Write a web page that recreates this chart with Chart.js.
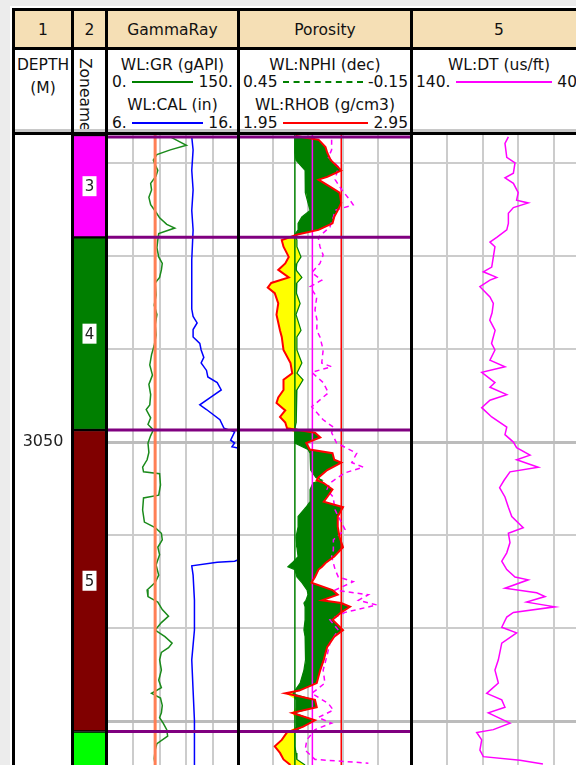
<!DOCTYPE html>
<html>
<head>
<meta charset="utf-8">
<script src="https://cdn.jsdelivr.net/npm/chart.js@4.4.0/dist/chart.umd.min.js"></script>
<style>
  body { margin: 0; width: 576px; height: 765px; overflow: hidden; background: #ececec; font-family: "DejaVu Sans", sans-serif; color: #111; }
  #frame { position: absolute; left: 10px; top: 6px; width: 620px; height: 800px; background: #fff; }
  .tan { position: absolute; left: 12px; top: 11px; width: 600px; height: 36px; background: #f5dfb5; }
  .vb { position: absolute; top: 8px; width: 3px; height: 800px; background: #000; z-index: 5; }
  .hb { position: absolute; left: 12px; width: 600px; height: 3px; background: #000; z-index: 5; }
  .c { position: absolute; text-align: center; white-space: nowrap; font-size: 15.5px; line-height: 18px; height: 18px; }
  .sc { position: absolute; display: flex; align-items: center; font-size: 15.5px; line-height: 18px; height: 18px; white-space: nowrap; }
  .sc i { flex: 1; margin: 0 5px; height: 0; }
  canvas { position: absolute; top: 135px; }
</style>
</head>
<body>
<div id="frame"></div>
<div class="tan"></div>

<!-- header row 1 -->
<div class="c" style="left:15px;width:56px;top:21px">1</div>
<div class="c" style="left:74px;width:31px;top:21px">2</div>
<div class="c" style="left:108px;width:129px;top:21px">GammaRay</div>
<div class="c" style="left:240px;width:170px;top:21px">Porosity</div>
<div class="c" style="left:413px;width:172px;top:21px">5</div>

<!-- header row 2 -->
<div class="c" style="left:15px;width:56px;top:56px">DEPTH</div>
<div class="c" style="left:15px;width:56px;top:78.5px">(M)</div>
<div style="position:absolute;left:76px;top:58px;height:71px;overflow:hidden;writing-mode:vertical-rl;font-size:15.5px;line-height:18px">Zoneame</div>

<div class="c" style="left:108px;width:129px;top:56px">WL:GR (gAPI)</div>
<div class="sc" style="left:112px;width:121px;top:72.5px"><span>0.</span><i style="border-top:2px solid #008000"></i><span>150.</span></div>
<div class="c" style="left:108px;width:129px;top:96px">WL:CAL (in)</div>
<div class="sc" style="left:112px;width:121px;top:114px"><span>6.</span><i style="border-top:2px solid #0000ff"></i><span>16.</span></div>

<div class="c" style="left:240px;width:170px;top:56px">WL:NPHI (dec)</div>
<div class="sc" style="left:243px;width:165px;top:72.5px"><span>0.45</span><i style="border-top:2px dashed #008000"></i><span>-0.15</span></div>
<div class="c" style="left:240px;width:170px;top:96px">WL:RHOB (g/cm3)</div>
<div class="sc" style="left:243px;width:165px;top:114px"><span>1.95</span><i style="border-top:2px solid #ff0000"></i><span>2.95</span></div>

<div class="c" style="left:413px;width:172px;top:56px">WL:DT (us/ft)</div>
<div class="sc" style="left:416px;width:166px;top:72.5px"><span>140.</span><i style="border-top:2px solid #ff00ff"></i><span>40.</span></div>

<div style="position:absolute;left:12px;top:129px;width:600px;height:3px;background:#c8c8c8"></div>

<!-- tracks -->
<canvas id="depthChart" width="56" height="630" style="left:15px"></canvas>
<canvas id="zoneChart" width="31" height="630" style="left:74px"></canvas>
<canvas id="grChart" width="134" height="630" style="left:106px"></canvas>
<canvas id="porChart" width="175" height="630" style="left:238px"></canvas>
<canvas id="dtChart" width="179" height="630" style="left:411px"></canvas>

<!-- frame lines -->
<div class="hb" style="top:8px"></div>
<div class="hb" style="top:47px"></div>
<div class="hb" style="top:132px"></div>
<div class="vb" style="left:12px"></div>
<div class="vb" style="left:71px"></div>
<div class="vb" style="left:105px"></div>
<div class="vb" style="left:237px"></div>
<div class="vb" style="left:410px"></div>

<script>
// gamma ray (gAPI)
var grDepth = [3017.2, 3017.6, 3018.1, 3018.6, 3019.1, 3019.7, 3020.2, 3020.8, 3021.4, 3022.2,
               3022.9, 3023.7, 3024.5, 3025.3, 3025.9, 3026.6, 3027.0, 3027.6, 3028.3, 3029.1,
               3030.1, 3030.8, 3031.5, 3032.3, 3032.9, 3034.2, 3035.3, 3036.3, 3037.4, 3038.5,
               3039.6, 3040.6, 3041.7, 3042.8, 3043.8, 3044.9, 3046.0, 3046.5, 3047.4, 3048.1,
               3048.7, 3049.3, 3050.1, 3051.1, 3051.9, 3052.7, 3053.2, 3053.4, 3054.6, 3055.7,
               3056.0, 3057.3, 3058.6, 3059.2, 3059.8, 3060.5, 3061.3, 3062.1, 3063.2, 3064.3,
               3065.1, 3065.9, 3066.6, 3067.2, 3068.0, 3068.7, 3069.4, 3070.2, 3070.9, 3071.6,
               3072.1, 3072.6, 3073.4, 3074.5, 3075.6, 3076.4, 3077.0, 3077.5, 3078.3, 3079.1,
               3079.6, 3080.2, 3080.9, 3081.6, 3082.4, 3083.1, 3084.0, 3084.7]
var gr = [72, 80, 90, 72, 57, 53, 55, 58, 56, 50,
          51, 48, 50, 56, 60, 68, 77, 59, 58, 57,
          59, 63, 62, 60, 55, 56, 54, 57, 55, 56,
          54, 51, 49, 52, 48, 50, 49, 45, 50, 47,
          53, 50, 47, 48, 46, 41, 42, 60, 61, 59,
          42, 41, 43, 55, 62, 63, 58, 60, 56, 59,
          55, 46, 47, 58, 63, 70, 62, 55, 66, 74,
          70, 62, 60, 62, 59, 62, 51, 61, 63, 62,
          60, 64, 68, 69, 57, 55, 54, 55]

// caliper (in)
var calDepth = [3017.2, 3018.6, 3020.8, 3022.9, 3025.1, 3027.2, 3030.4, 3033.6, 3035.7, 3036.5,
                3037.2, 3037.9, 3038.7, 3039.4, 3040.1, 3040.9, 3041.5, 3042.3, 3043.0, 3043.6,
                3044.4, 3045.2, 3046.0, 3046.5, 3047.6, 3048.5, 3048.9, 3049.8, 3050.1, 3050.5,
                3050.8, 3051.5, 3062.0, 3062.8, 3062.9, 3063.3, 3064.3, 3067.0, 3070.2, 3073.4,
                3076.7, 3079.9, 3084.7]
var cal = [12.4, 12.5, 12.4, 12.5, 12.4, 12.5, 12.4, 12.4, 12.4, 12.5,
           12.8, 12.5, 12.5, 13.0, 13.1, 13.3, 13.1, 13.5, 13.6, 14.3,
           14.6, 13.8, 13.0, 13.5, 14.5, 14.8, 15.6, 15.3, 15.6, 15.4,
           16.4, 17.0, 17.0, 15.6, 14.3, 12.4, 12.5, 12.6, 12.6, 12.4,
           12.5, 12.6, 12.6]

// neutron / density pair, shared depths for the crossover fill
var porDepth = [3017.1, 3017.5, 3018.3, 3018.9, 3019.7, 3020.8, 3021.5, 3021.8, 3022.6, 3023.2,
                3024.3, 3025.1, 3025.8, 3026.5, 3027.2, 3027.7, 3028.3, 3029.0, 3030.1, 3030.8,
                3031.5, 3032.3, 3032.9, 3033.4, 3034.0, 3035.1, 3036.3, 3038.0, 3038.7, 3040.1,
                3041.5, 3042.6, 3043.3, 3044.4, 3045.2, 3045.8, 3046.6, 3047.3, 3047.9, 3048.5,
                3049.0, 3049.5, 3050.1, 3050.8, 3051.2, 3051.9, 3052.2, 3053.0, 3053.8, 3054.1,
                3054.4, 3055.1, 3055.9, 3056.4, 3057.0, 3058.0, 3059.1, 3060.2, 3061.3, 3062.3,
                3063.0, 3063.4, 3063.7, 3064.5, 3065.1, 3065.9, 3066.4, 3067.0, 3067.3, 3067.7,
                3068.3, 3069.1, 3070.2, 3070.9, 3072.0, 3073.4, 3074.5, 3075.9, 3076.7, 3077.0,
                3077.7, 3078.5, 3079.1, 3079.9, 3080.6, 3081.2, 3082.0, 3082.7, 3083.4, 3084.1,
                3084.7]
var rhob = [2.28, 2.41, 2.45, 2.46, 2.48, 2.54, 2.46, 2.41, 2.48, 2.53,
            2.54, 2.52, 2.50, 2.49, 2.41, 2.29, 2.20, 2.21, 2.24, 2.22,
            2.18, 2.24, 2.14, 2.12, 2.16, 2.18, 2.17, 2.19, 2.20, 2.21,
            2.25, 2.26, 2.21, 2.21, 2.18, 2.17, 2.22, 2.19, 2.22, 2.23,
            2.39, 2.42, 2.34, 2.36, 2.49, 2.50, 2.54, 2.46, 2.41, 2.40,
            2.44, 2.49, 2.46, 2.44, 2.55, 2.52, 2.52, 2.53, 2.55, 2.50,
            2.45, 2.43, 2.41, 2.39, 2.37, 2.49, 2.52, 2.43, 2.54, 2.59,
            2.54, 2.49, 2.55, 2.50, 2.46, 2.44, 2.42, 2.40, 2.30, 2.22,
            2.39, 2.40, 2.26, 2.39, 2.32, 2.23, 2.20, 2.16, 2.19, 2.21,
            2.25]
var nphi = [0.255, 0.255, 0.255, 0.255, 0.251, 0.220, 0.220, 0.220, 0.220, 0.217,
            0.210, 0.203, 0.231, 0.244, 0.244, 0.255, 0.248, 0.248, 0.234, 0.248,
            0.251, 0.231, 0.248, 0.248, 0.251, 0.237, 0.251, 0.234, 0.248, 0.248,
            0.231, 0.248, 0.227, 0.248, 0.251, 0.248, 0.251, 0.251, 0.251, 0.255,
            0.255, 0.255, 0.255, 0.210, 0.203, 0.203, 0.200, 0.200, 0.183, 0.162,
            0.193, 0.203, 0.203, 0.203, 0.217, 0.244, 0.244, 0.251, 0.248, 0.244,
            0.265, 0.279, 0.255, 0.248, 0.231, 0.213, 0.210, 0.217, 0.224, 0.220,
            0.220, 0.220, 0.224, 0.220, 0.220, 0.217, 0.224, 0.237, 0.255, 0.261,
            0.251, 0.251, 0.251, 0.251, 0.251, 0.255, 0.255, 0.255, 0.251, 0.248,
            0.220]

// sonic porosity, magenta dashed in the porosity track
var sphiDepth = [3017.5, 3018.6, 3019.4, 3020.4, 3021.8, 3022.9, 3024.0, 3024.5, 3025.1, 3025.8,
                 3026.9, 3028.0, 3029.0, 3029.9, 3030.8, 3031.8, 3032.6, 3033.3, 3034.4, 3035.8,
                 3036.9, 3038.0, 3038.7, 3040.1, 3041.5, 3041.9, 3042.5, 3043.6, 3044.7, 3046.2,
                 3047.6, 3048.4, 3049.0, 3050.1, 3051.2, 3052.2, 3052.7, 3053.3, 3054.4, 3055.1,
                 3055.9, 3057.3, 3059.4, 3060.5, 3061.6, 3062.3, 3063.7, 3064.5, 3065.0, 3065.9,
                 3066.4, 3067.0, 3067.5, 3068.3, 3069.1, 3070.2, 3071.6, 3073.1, 3074.5, 3075.9,
                 3077.0, 3078.1, 3078.8, 3079.6, 3080.2, 3080.9, 3082.0, 3083.1, 3084.1, 3084.5]
var sphi = [0.129, 0.129, 0.140, 0.106, 0.117, 0.094, 0.066, 0.055, 0.117, 0.123,
            0.135, 0.175, 0.169, 0.158, 0.169, 0.197, 0.163, 0.203, 0.180, 0.186,
            0.179, 0.180, 0.169, 0.158, 0.163, 0.129, 0.197, 0.158, 0.140, 0.197,
            0.158, 0.123, 0.129, 0.112, 0.043, 0.060, 0.020, 0.083, 0.135, 0.145,
            0.124, 0.117, 0.083, 0.123, 0.123, 0.129, 0.117, 0.106, 0.055, 0.117,
            0.003, 0.037, -0.026, 0.083, 0.135, 0.106, 0.135, 0.146, 0.158, 0.152,
            0.197, 0.140, 0.123, 0.175, 0.129, 0.186, 0.214, 0.220, 0.186, 0.003]

// sonic (us/ft)
var dtDepth = [3017.2, 3017.9, 3019.4, 3020.0, 3021.1, 3021.6, 3022.2, 3023.2, 3024.0, 3024.3,
               3024.8, 3025.4, 3026.5, 3027.2, 3028.0, 3028.5, 3029.0, 3030.1, 3031.2, 3031.7,
               3032.3, 3032.6, 3033.3, 3034.4, 3035.1, 3036.1, 3036.9, 3038.0, 3039.4, 3040.1,
               3041.2, 3041.9, 3042.5, 3043.6, 3044.1, 3044.9, 3045.5, 3046.3, 3047.3, 3048.4,
               3049.2, 3050.0, 3050.6, 3051.4, 3051.9, 3052.7, 3053.2, 3054.1, 3054.9, 3055.9,
               3057.0, 3058.0, 3059.2, 3059.8, 3060.8, 3061.9, 3062.8, 3063.7, 3064.5, 3064.8,
               3065.7, 3066.2, 3066.6, 3067.2, 3067.7, 3068.3, 3068.8, 3069.9, 3070.5, 3071.6,
               3073.4, 3074.5, 3075.9, 3077.0, 3077.7, 3078.5, 3079.1, 3080.2, 3080.9, 3081.2,
               3082.0, 3083.1, 3083.8, 3084.2, 3084.6]
var dt = [85.6, 87.5, 86.5, 81.9, 82.8, 87.5, 82.8, 80.1, 81.0, 74.5,
          82.8, 85.6, 85.6, 86.5, 92.1, 95.9, 93.1, 94.0, 94.9, 99.6,
          92.1, 95.9, 101.5, 95.9, 94.0, 94.7, 96.0, 93.0, 95.0, 93.1,
          95.9, 87.5, 100.5, 93.1, 95.9, 86.5, 95.9, 100.5, 94.9, 86.5,
          87.5, 82.8, 81.0, 73.5, 81.0, 68.9, 84.7, 88.0, 90.5, 87.5,
          85.6, 83.7, 77.3, 85.6, 84.7, 86.5, 89.3, 86.5, 81.9, 74.5,
          87.5, 69.8, 65.1, 75.4, 59.6, 82.8, 86.5, 89.3, 81.0, 89.3,
          91.2, 93.1, 91.2, 97.7, 89.3, 87.5, 96.8, 84.7, 94.0, 103.3,
          100.5, 101.5, 99.6, 79.1, 66.3]

var grCutoff = 55
var nphiCutoff = 0.255
var sphiCutoff = 0.195
var rhobCutoff = 2.54

var zoneNames = ['3', '4', '5', '6']
var zoneTops = [3017, 3028, 3048.7, 3081.1]
var zoneBases = [3028, 3048.7, 3081.1, 3095]
var zoneColors = ['#ff00ff', '#007f00', '#800000', '#00ff00']

var depthTicks = [3020, 3030, 3040, 3050, 3060, 3070, 3080]
var boldDepths = [3050, 3080]
var depthLabels = [3050]
var topDepth = 3017
var baseDepth = 3084.7

var rhobMin = 1.95, rhobMax = 2.95
var nphiLeft = 0.45, nphiRight = -0.15

Chart.defaults.font.family = '"DejaVu Sans", sans-serif'
Chart.defaults.animation = false
Chart.defaults.plugins.legend.display = false
Chart.defaults.plugins.tooltip.enabled = false
Chart.defaults.elements.point.radius = 0
Chart.defaults.elements.line.tension = 0

function pts(depths, vals) {
    return depths.map(function (d, i) { return { x: vals[i], y: d } })
}
function vline(v) {
    return [{ x: v, y: topDepth }, { x: v, y: baseDepth }]
}
function evenTicks(ax) {
    var s = (ax.max - ax.min) / 5
    ax.ticks = []
    for (var i = 0; i <= 5; i++) ax.ticks.push({ value: ax.min + s * i })
}

function depthAxis(showGrid) {
    return {
        type: 'linear', min: topDepth, max: baseDepth, reverse: true,
        display: showGrid,
        afterBuildTicks: function (ax) {
            ax.ticks = depthTicks.map(function (v) { return { value: v } })
        },
        ticks: { display: false },
        border: { display: false },
        grid: {
            drawTicks: false,
            color: function (c) { return c.tick && boldDepths.includes(c.tick.value) ? '#bcbcbc' : '#cccccc' },
            lineWidth: function (c) { return c.tick && boldDepths.includes(c.tick.value) ? 3 : 2 }
        }
    }
}

function valueAxis(min, max, reverse, showGrid) {
    return {
        type: 'linear', axis: 'x', position: 'top',
        min: min, max: max, reverse: reverse,
        display: showGrid,
        afterBuildTicks: evenTicks,
        ticks: { display: false },
        border: { display: false },
        grid: { drawTicks: false, color: '#cccccc', lineWidth: 2 }
    }
}

// purple zone boundaries across the log tracks
var zoneLines = {
    id: 'zoneLines',
    afterDatasetsDraw: function (chart) {
        var y = chart.scales.y, a = chart.chartArea, ctx = chart.ctx
        ctx.save()
        ctx.strokeStyle = '#800080'
        ctx.lineWidth = 3
        zoneTops.forEach(function (d) {
            if (d < y.min || d > y.max) return
            var p = Math.max(y.getPixelForValue(d), a.top + 2)
            ctx.beginPath()
            ctx.moveTo(a.left, p)
            ctx.lineTo(a.right, p)
            ctx.stroke()
        })
        ctx.restore()
    }
}

var zoneLabels = {
    id: 'zoneLabels',
    afterDatasetsDraw: function (chart) {
        var y = chart.scales.y, a = chart.chartArea, ctx = chart.ctx
        var cx = (a.left + a.right) / 2
        ctx.save()
        ctx.font = '15px "DejaVu Sans"'
        ctx.textAlign = 'center'
        ctx.textBaseline = 'middle'
        zoneNames.forEach(function (name, i) {
            var mid = (zoneTops[i] + zoneBases[i]) / 2
            if (mid < y.min || mid > y.max) return
            var p = y.getPixelForValue(mid)
            ctx.fillStyle = '#fff'
            ctx.fillRect(cx - 7, p - 10, 14, 20)
            ctx.fillStyle = '#222'
            ctx.fillText(name, cx, p + 1)
        })
        ctx.restore()
    }
}

var depthText = {
    id: 'depthText',
    afterDraw: function (chart) {
        var y = chart.scales.y, a = chart.chartArea, ctx = chart.ctx
        ctx.save()
        ctx.font = '16px "DejaVu Sans"'
        ctx.fillStyle = '#222'
        ctx.textAlign = 'center'
        ctx.textBaseline = 'middle'
        depthLabels.forEach(function (d) {
            ctx.fillText(String(d), (a.left + a.right) / 2, y.getPixelForValue(d))
        })
        ctx.restore()
    }
}

// depth track
new Chart('depthChart', {
    type: 'line',
    data: { datasets: [] },
    options: {
        responsive: false,
        indexAxis: 'y',
        scales: { x: { type: 'linear', display: false, min: 0, max: 1 }, y: depthAxis(false) }
    },
    plugins: [depthText]
})

// zone track
new Chart('zoneChart', {
    type: 'bar',
    data: {
        labels: ['zone'],
        datasets: zoneNames.map(function (n, i) {
            return {
                data: [[zoneTops[i], zoneBases[i]]],
                backgroundColor: zoneColors[i],
                borderColor: '#000',
                borderWidth: { top: 1.5, bottom: 1.5, left: 0, right: 0 },
                borderSkipped: false,
                grouped: false,
                barPercentage: 1,
                categoryPercentage: 1
            }
        })
    },
    options: {
        responsive: false,
        scales: {
            x: { display: false },
            y: { type: 'linear', min: topDepth, max: baseDepth, reverse: true, display: false }
        }
    },
    plugins: [zoneLabels]
})

// gamma ray + caliper
new Chart('grChart', {
    type: 'line',
    data: {
        datasets: [
            { data: vline(grCutoff), borderColor: '#ff7f55', borderWidth: 3, xAxisID: 'x' },
            { data: pts(grDepth, gr), borderColor: '#1a8a1a', borderWidth: 1.5, xAxisID: 'x' },
            { data: pts(calDepth, cal), borderColor: '#0000ff', borderWidth: 1.5, xAxisID: 'xc' }
        ]
    },
    options: {
        responsive: false,
        indexAxis: 'y',
        scales: {
            x: valueAxis(0, 150, false, true),
            xc: valueAxis(6, 16, false, false),
            y: depthAxis(true)
        }
    },
    plugins: [zoneLines]
})

// porosity: neutron / density crossover
var fr = rhob.map(function (v) { return (v - rhobMin) / (rhobMax - rhobMin) })
var fn = nphi.map(function (v) { return (nphiLeft - v) / (nphiLeft - nphiRight) })
var hiSide = fr.map(function (f, i) { return rhobMin + Math.max(f, fn[i]) * (rhobMax - rhobMin) })
var loSide = fr.map(function (f, i) { return rhobMin + Math.min(f, fn[i]) * (rhobMax - rhobMin) })

new Chart('porChart', {
    type: 'line',
    data: {
        datasets: [
            { data: pts(porDepth, hiSide), xAxisID: 'xr', borderWidth: 0, backgroundColor: '#007f00', fill: 2, order: 9 },
            { data: pts(porDepth, loSide), xAxisID: 'xr', borderWidth: 0, backgroundColor: '#ffff00', fill: 2, order: 9 },
            { data: pts(porDepth, nphi), xAxisID: 'xn', borderColor: '#008000', borderWidth: 1.2, order: 3 },
            { data: pts(porDepth, rhob), xAxisID: 'xr', borderColor: '#ff0000', borderWidth: 2, order: 0 },
            { data: pts(sphiDepth, sphi), xAxisID: 'xn', borderColor: '#ff00ff', borderWidth: 1.5, borderDash: [5, 4], order: 1 },
            { data: vline(nphiCutoff), xAxisID: 'xn', borderColor: '#008000', borderWidth: 1.5, order: 2 },
            { data: vline(sphiCutoff), xAxisID: 'xn', borderColor: '#ff00ff', borderWidth: 1.5, order: 2 },
            { data: vline(rhobCutoff), xAxisID: 'xr', borderColor: '#ff0000', borderWidth: 1.5, order: 2 }
        ]
    },
    options: {
        responsive: false,
        indexAxis: 'y',
        scales: {
            xr: valueAxis(rhobMin, rhobMax, false, true),
            xn: valueAxis(nphiRight, nphiLeft, true, false),
            y: depthAxis(true)
        }
    },
    plugins: [zoneLines]
})

// sonic
new Chart('dtChart', {
    type: 'line',
    data: {
        datasets: [
            { data: pts(dtDepth, dt), borderColor: '#ff00ff', borderWidth: 1.5 }
        ]
    },
    options: {
        responsive: false,
        indexAxis: 'y',
        scales: {
            x: valueAxis(40, 140, true, true),
            y: depthAxis(true)
        }
    }
})
</script>
</body>
</html>
